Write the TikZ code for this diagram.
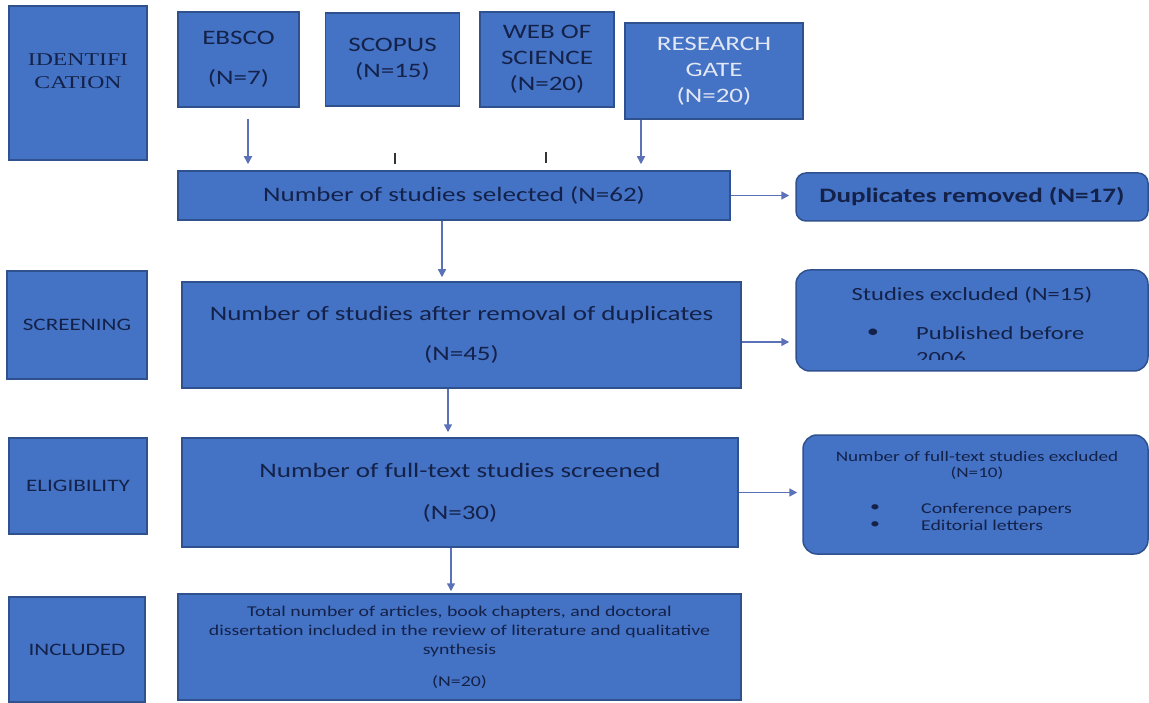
\documentclass[tikz,border=0pt]{standalone}
\usepackage{fontspec}
\setmainfont{Carlito}[FakeStretch = 1.32]
\newfontfamily\serifstage{Liberation Serif}[FakeStretch = 1.32]
\usetikzlibrary{positioning, calc, arrows.meta}

\definecolor{boxblue}{HTML}{4472C4}
\definecolor{boxline}{HTML}{2F528F}
\definecolor{navy}{HTML}{14224A}
\definecolor{arrowblue}{HTML}{5C72B8}
\definecolor{gatetext}{HTML}{E1E7F5}

\newcommand{\srcfont}{\fontsize{20.5pt}{26pt}\selectfont}
\newcommand{\exclfont}{\fontsize{18.6pt}{25pt}\selectfont}
\newcommand{\notefont}{\fontsize{15pt}{19pt}\selectfont}
\newcommand{\stagefont}{\fontsize{17.5pt}{22pt}\selectfont}

\tikzset{
every node/.style = {text = navy, align = center, inner sep = 2pt},
stage/.style = {rectangle, draw = boxline, line width = 1.5pt, fill = boxblue, 
	font = \stagefont},
source/.style = {rectangle, draw = boxline, line width = 1.5pt, fill = boxblue, 
	font = \srcfont},
flowbox/.style = {rectangle, draw = boxline, line width = 1.5pt, fill = boxblue, 
	font = \srcfont},
exclbox/.style = {rectangle, rounded corners = 14pt, draw = boxline, line width = 1.5pt, 
	fill = boxblue},
flow/.style = {-{Triangle[length = 8pt, width = 8pt]}, draw = arrowblue, line width = 1.5pt},
tickmark/.style = {draw = black!80, line width = 2pt}
}

\begin{document}
\begin{tikzpicture}[x = 1pt, y = -1pt]
\useasboundingbox (0, 0) rectangle (1149, 703);

%% The stages
\node [stage, minimum width = 138pt, minimum height = 154pt, text depth = 24pt,
	font = {\serifstage\fontsize{18pt}{23pt}\selectfont}] (ident) at (78, 83) {IDENTIFI\\CATION};
\node [stage, minimum width = 140pt, minimum height = 108pt] (screen) at (77, 325) {SCREENING};
\node [stage, minimum width = 138pt, minimum height = 96pt] (elig) at (78, 486) {ELIGIBILITY};
\node [stage, minimum width = 136pt, minimum height = 105pt] (incl) at (77, 649.5) {INCLUDED};

%% The databases
\node [source, minimum width = 121pt, minimum height = 95pt] (ebsco) at (238.5, 59.5) {EBSCO\\[14pt](N=7)};
\node [source, minimum width = 134pt, minimum height = 93pt] (scopus) [right = 25pt of ebsco] {SCOPUS\\(N=15)};
\node [source, minimum width = 134pt, minimum height = 95pt] (wos) [right = 19pt of scopus] {WEB OF\\SCIENCE\\(N=20)};
\node [source, minimum width = 178pt, minimum height = 96pt, text = gatetext] (rgate) at (714, 71) {RESEARCH\\GATE\\(N=20)};

%% The main flow
\node [flowbox, minimum width = 552pt, minimum height = 49pt] (selected) at (454, 195.5) {Number of studies selected (N=62)};
\node [flowbox, minimum width = 559pt, minimum height = 106pt] (afterdup) at (461.5, 335) {Number of studies after removal of duplicates\\[14pt](N=45)};
\node [flowbox, minimum width = 556pt, minimum height = 109pt] (fulltext) at (460, 492.5) {Number of full-text studies screened\\[16pt](N=30)};
\node [flowbox, minimum width = 563pt, minimum height = 106pt, font = \notefont] (total) at (459.5, 647) {Total number of articles, book chapters, and doctoral\\dissertation included in the review of literature and qualitative\\synthesis\\[13pt](N=20)};

%% The exclusions
\node [exclbox, rounded corners = 10pt, minimum width = 352pt, minimum height = 48pt, 
	font = \bfseries\srcfont] (dups) at (972, 197) {Duplicates removed (N=17)};
\node [exclbox, minimum width = 352pt, minimum height = 101pt] (excl1) at (972, 320.5) {};
\node [font = \exclfont] (excl1head) at (972, 295) {Studies excluded (N=15)};
\node [font = \exclfont] (excl1dot) at (873, 333) {\textbullet};
\begin{scope}
\clip ([yshift = 12pt]excl1.south west) rectangle (excl1.north east);
\node [font = \exclfont, anchor = west, align = left] (excl1item) at (914, 346) {Published before\\2006};
\end{scope}

\node [exclbox, minimum width = 345pt, minimum height = 119pt] (excl2) at (975.5, 494.5) {};
\node [font = {\fontsize{14.5pt}{15.5pt}\selectfont}] (excl2head) at (977, 465.5) {Number of full-text studies excluded\\(N=10)};
\node [font = \notefont] (excl2dota) at (875, 508) {\textbullet};
\node [font = \notefont] (excl2dotb) at (875, 525) {\textbullet};
\node [font = {\fontsize{15pt}{17pt}\selectfont}, anchor = west, align = left] (excl2items) at (919, 516.5) {Conference papers\\Editorial letters};

%% The arrows
\draw [flow, shorten > = 6pt] ($(ebsco.south) + (9.5, 11)$) -- ($(ebsco.south |- selected.north) + (9.5, 0)$);
\draw [flow, shorten > = 6pt] ($(rgate.south) + (-73, 0)$) -- ($(rgate.south |- selected.north) + (-73, 0)$);
\draw [tickmark] ($(scopus.south) + (2, 46)$) -- ++(0, 11);
\draw [tickmark] ($(wos.south) + (-1, 44)$) -- ++(0, 11);
\draw [flow, shorten > = 4pt] ($(selected.south) + (-12, 0)$) -- ($(selected.south |- afterdup.north) + (-12, 0)$);
\draw [flow, shorten > = 6pt] (selected.east) -- (selected.east -| dups.west);
\draw [flow, shorten > = 6pt] ($(afterdup.east) + (0, 7)$) -- ($(afterdup.east -| excl1.west) + (0, 7)$);
\draw [flow, shorten > = 5pt] ($(afterdup.south) + (-13.5, 0)$) -- ($(afterdup.south |- fulltext.north) + (-13.5, 0)$);
\draw [flow, shorten > = 5pt] (fulltext.east) -- (fulltext.east -| excl2.west);
\draw [flow, shorten > = 2pt] ($(fulltext.south) + (-9, 0)$) -- ($(fulltext.south |- total.north) + (-9, 0)$);

\end{tikzpicture}
\end{document}
